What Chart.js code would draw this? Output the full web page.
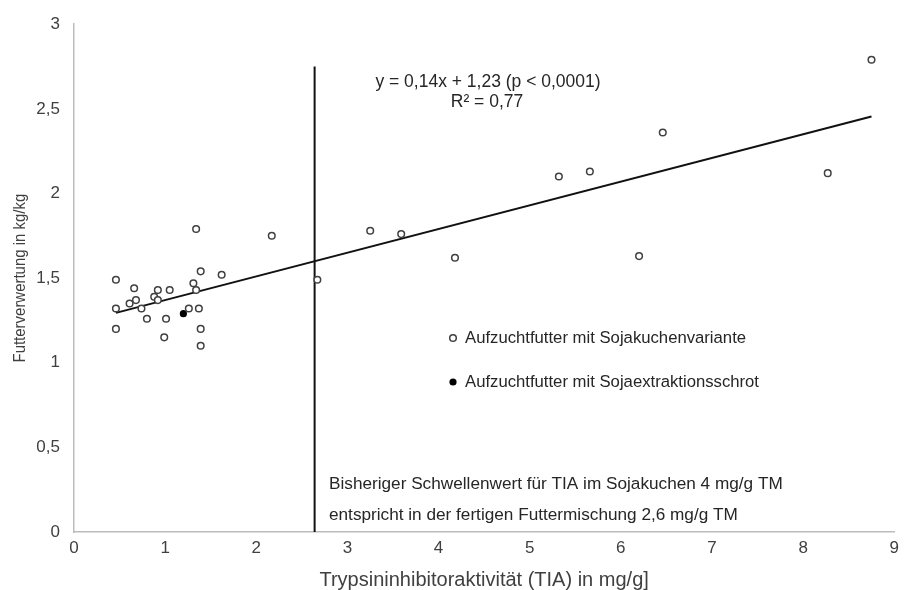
<!DOCTYPE html>
<html>
<head>
<meta charset="utf-8">
<script src="https://cdn.jsdelivr.net/npm/chart.js@4.4.1/dist/chart.umd.min.js"></script>
<style>
  body { margin: 0; background: #fff; }
  canvas { display: block; }
</style>
</head>
<body>
<canvas id="fvChart" width="905" height="590"></canvas>
<script>
// TIA (mg/g) und Futterverwertung (kg/kg) der Sojakuchen-Varianten
const tiaKuchen = [0.46, 0.46, 0.46, 0.61, 0.66, 0.68, 0.74, 0.80, 0.88, 0.92, 0.92, 0.99, 1.01, 1.05,
                   1.26, 1.31, 1.34, 1.34, 1.37, 1.39, 1.39, 1.39, 1.62,
                   2.17, 2.67, 3.25, 3.59, 4.18, 5.32, 5.66, 6.20, 6.46, 8.27, 8.75];
const fvKuchen  = [1.49, 1.32, 1.20, 1.35, 1.44, 1.37, 1.32, 1.26, 1.39, 1.43, 1.37, 1.15, 1.26, 1.43,
                   1.32, 1.47, 1.79, 1.43, 1.32, 1.54, 1.20, 1.10, 1.52,
                   1.75, 1.49, 1.78, 1.76, 1.62, 2.10, 2.13, 1.63, 2.36, 2.12, 2.79];

// Sojaextraktionsschrot
const tiaSes = [1.20];
const fvSes  = [1.29];

// Regressionsgerade y = 0,14x + 1,23
const slope = 0.14;
const intercept = 1.23;
const fitRange = [0.46, 8.75];

// Schwellenwert in der Futtermischung
const thresholdX = 2.64;
const thresholdTop = 2.75;

const xTicks = [0, 1, 2, 3, 4, 5, 6, 7, 8, 9];
const yTicks = [0, 0.5, 1, 1.5, 2, 2.5, 3];

const FONT = '"Liberation Sans", Arial, sans-serif';
const TEXT = '#404040';

const toPoints = (xs, ys) => xs.map((x, i) => ({ x: x, y: ys[i] }));
const deComma = v => String(v).replace('.', ',');

const annotations = {
    id: 'annotations',
    afterDraw(chart) {
        const ctx = chart.ctx;
        const area = chart.chartArea;
        ctx.save();
        ctx.textBaseline = 'middle';

        // y-Achsentitel, etwas gestaucht
        ctx.save();
        ctx.fillStyle = TEXT;
        ctx.font = '17px ' + FONT;
        ctx.textAlign = 'center';
        ctx.translate(20, (area.top + area.bottom) / 2);
        ctx.rotate(-Math.PI / 2);
        ctx.scale(0.88, 1);
        ctx.fillText('Futterverwertung in kg/kg', 0, 0);
        ctx.restore();

        ctx.fillStyle = '#262626';
        ctx.font = '17.5px ' + FONT;
        ctx.textAlign = 'center';
        ctx.fillText('y = 0,14x + 1,23 (p < 0,0001)', 488, 82);
        ctx.fillText('R² = 0,77', 487, 102);

        ctx.textAlign = 'left';
        ctx.font = '16.7px ' + FONT;
        ctx.fillText('Aufzuchtfutter mit Sojakuchenvariante', 465, 338);
        ctx.fillText('Aufzuchtfutter mit Sojaextraktionsschrot', 465, 382);
        ctx.font = '17.2px ' + FONT;
        ctx.fillText('Bisheriger Schwellenwert für TIA im Sojakuchen 4 mg/g TM', 329, 484);
        ctx.fillText('entspricht in der fertigen Futtermischung 2,6 mg/g TM', 329, 515);

        // legend markers
        ctx.lineWidth = 1.5;
        ctx.strokeStyle = '#404040';
        ctx.beginPath();
        ctx.arc(453, 338, 3.3, 0, Math.PI * 2);
        ctx.stroke();
        ctx.fillStyle = '#000';
        ctx.beginPath();
        ctx.arc(453, 382, 3.6, 0, Math.PI * 2);
        ctx.fill();
        ctx.restore();
    }
};

new Chart(document.getElementById('fvChart'), {
    type: 'scatter',
    data: {
        datasets: [{
            label: 'Aufzuchtfutter mit Sojakuchenvariante',
            data: toPoints(tiaKuchen, fvKuchen),
            pointRadius: 3.3,
            pointBorderWidth: 1.5,
            pointBorderColor: '#404040',
            pointBackgroundColor: '#fff',
            order: 1
        }, {
            label: 'Aufzuchtfutter mit Sojaextraktionsschrot',
            data: toPoints(tiaSes, fvSes),
            pointRadius: 3.6,
            pointBorderWidth: 0,
            pointBackgroundColor: '#000',
            order: 1
        }, {
            label: 'Regression',
            data: fitRange.map(x => ({ x: x, y: slope * x + intercept })),
            showLine: true,
            borderColor: '#111',
            borderWidth: 2,
            pointRadius: 0,
            order: 2
        }, {
            label: 'Schwellenwert',
            data: [{ x: thresholdX, y: 0 }, { x: thresholdX, y: thresholdTop }],
            showLine: true,
            borderColor: '#111',
            borderWidth: 2,
            pointRadius: 0,
            order: 2
        }]
    },
    options: {
        responsive: false,
        animation: false,
        layout: { padding: { top: 22, right: 8, left: 0, bottom: 0 } },
        plugins: {
            legend: { display: false },
            tooltip: { enabled: false }
        },
        scales: {
            x: {
                type: 'linear',
                min: 0,
                max: 9,
                afterBuildTicks: scale => { scale.ticks = xTicks.map(v => ({ value: v })); },
                afterFit: scale => { scale.height = 58; },
                grid: { display: false, drawTicks: false },
                border: { display: true, color: '#bcbcbc', width: 1.5 },
                ticks: { color: TEXT, padding: 6, font: { family: FONT, size: 17 }, maxRotation: 0 },
                title: {
                    display: true,
                    text: 'Trypsininhibitoraktivität (TIA) in mg/g]',
                    color: TEXT,
                    font: { family: FONT, size: 20, lineHeight: 1 },
                    padding: { top: 0, bottom: 0 }
                }
            },
            y: {
                type: 'linear',
                min: 0,
                max: 3,
                afterBuildTicks: scale => { scale.ticks = yTicks.map(v => ({ value: v })); },
                afterFit: scale => { scale.width = 74; },
                grid: { display: false, drawTicks: false },
                border: { display: true, color: '#bcbcbc', width: 1.5 },
                ticks: { color: TEXT, padding: 14, font: { family: FONT, size: 17 }, callback: v => deComma(v) },
                title: { display: false }
            }
        }
    },
    plugins: [annotations]
});
</script>
</body>
</html>
